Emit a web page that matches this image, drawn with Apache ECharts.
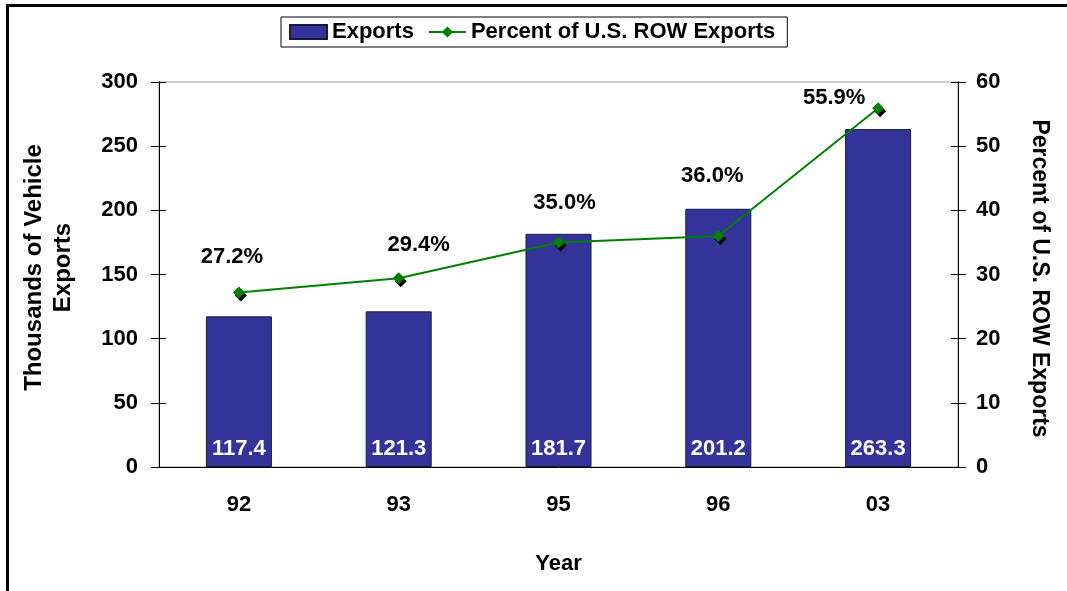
<!DOCTYPE html>
<html lang="en">
<head>
  <meta charset="UTF-8">
  <title>Vehicle Exports</title>
  <script src="https://cdn.jsdelivr.net/npm/echarts@6/dist/echarts.min.js"></script>
  <style>
    html, body { margin: 0; padding: 0; background: #fff; }
    #frame { position: absolute; left: 6px; top: 4px; width: 1061px; height: 587px;
             border-top: 3px solid #000; border-left: 3px solid #000; box-sizing: border-box; }
    #chart { position: absolute; left: 0; top: 0; width: 1067px; height: 591px; }
  </style>
</head>
<body>
  <div id="frame"></div>
  <div id="chart"></div>
  <script>
    // data
    var years = ['92', '93', '95', '96', '03'];
    var exports = [117.4, 121.3, 181.7, 201.2, 263.3];
    var percentRow = [27.2, 29.4, 35.0, 36.0, 55.9];

    // where each percent label sits relative to its point (px)
    var labelShift = [[-7, -36], [20, -33], [6, -39], [-6, -60], [-44, -10]];

    var font = 'Liberation Sans, Arial, sans-serif';
    var fs = 22;

    var chart = echarts.init(document.getElementById('chart'), null, { renderer: 'canvas' });

    // extra axes only to draw the inner half of Excel's cross ticks
    function crossAxis(max, step, pos) {
      return {
        type: 'value', min: 0, max: max, interval: step, position: pos,
        axisLine: { show: true, lineStyle: { color: '#000' } },
        axisTick: { show: true, inside: true, length: 7, lineStyle: { color: '#000' } },
        axisLabel: { show: false },
        splitLine: { show: false }
      };
    }

    var option = {
      animation: false,
      textStyle: { fontFamily: font },
      legend: {
        left: 281,
        top: 17,
        padding: [4, 12, 4, 8],
        itemGap: 14,
        itemWidth: 37,
        itemHeight: 14,
        borderColor: '#000',
        borderWidth: 1,
        textStyle: { fontSize: fs, fontWeight: 'bold', color: '#000', fontFamily: font },
        data: [{ name: 'Exports', icon: 'rect' }, { name: 'Percent of U.S. ROW Exports' }]
      },
      grid: {
        left: 159, right: 109, top: 82, bottom: 124,
        show: true, borderColor: '#999', borderWidth: 1
      },
      xAxis: {
        type: 'category',
        data: years,
        name: 'Year',
        nameLocation: 'middle',
        nameGap: 86,
        nameTextStyle: { fontSize: fs, fontWeight: 'bold', color: '#000' },
        axisLine: { lineStyle: { color: '#000', width: 1 } },
        axisTick: { length: 8, lineStyle: { color: '#000' } },
        axisLabel: { fontSize: fs, fontWeight: 'bold', color: '#000', margin: 27 }
      },
      yAxis: [{
        type: 'value',
        min: 0, max: 300, interval: 50,
        name: 'Thousands of Vehicle\nExports',
        nameLocation: 'middle',
        nameRotate: 90,
        nameGap: 81,
        nameTextStyle: { fontSize: 24, fontWeight: 'bold', color: '#000', lineHeight: 29, padding: [0, 0, 0, 14] },
        axisLine: { show: true, lineStyle: { color: '#000' } },
        axisTick: { show: true, length: 8, lineStyle: { color: '#000' } },
        axisLabel: { fontSize: fs, fontWeight: 'bold', color: '#000', margin: 21 },
        splitLine: { show: false }
      }, {
        type: 'value',
        min: 0, max: 60, interval: 10,
        position: 'right',
        name: 'Percent of U.S. ROW Exports',
        nameLocation: 'middle',
        nameRotate: -90,
        nameGap: 70,
        nameTextStyle: { fontSize: 23, fontWeight: 'bold', color: '#000', padding: [0, 0, 0, 8] },
        axisLine: { show: true, lineStyle: { color: '#000' } },
        axisTick: { show: true, length: 8, lineStyle: { color: '#000' } },
        axisLabel: { fontSize: fs, fontWeight: 'bold', color: '#000', margin: 18 },
        splitLine: { show: false }
      }, crossAxis(300, 50, 'left'), crossAxis(60, 10, 'right')],
      series: [{
        name: 'Exports',
        type: 'bar',
        data: exports,
        barWidth: 66,
        itemStyle: { color: '#333399', borderColor: '#1a1a40', borderWidth: 1 },
        label: {
          show: true,
          position: 'insideBottom',
          distance: 7,
          color: '#fff',
          fontSize: fs,
          fontWeight: 'bold',
          formatter: function (p) { return p.value.toFixed(1); }
        }
      }, {
        name: 'Percent of U.S. ROW Exports',
        type: 'line',
        yAxisIndex: 1,
        z: 5,
        data: percentRow.map(function (v, i) {
          return { value: v, label: { offset: labelShift[i] } };
        }),
        symbol: 'diamond',
        symbolSize: 12,
        lineStyle: { color: '#008000', width: 2 },
        itemStyle: {
          color: '#008000',
          shadowColor: '#000', shadowBlur: 0, shadowOffsetX: 2, shadowOffsetY: 3
        },
        label: {
          show: true,
          position: 'inside',
          color: '#000',
          fontSize: fs,
          fontWeight: 'bold',
          formatter: function (p) { return p.value.toFixed(1) + '%'; }
        }
      }]
    };

    chart.setOption(option);
  </script>
</body>
</html>
